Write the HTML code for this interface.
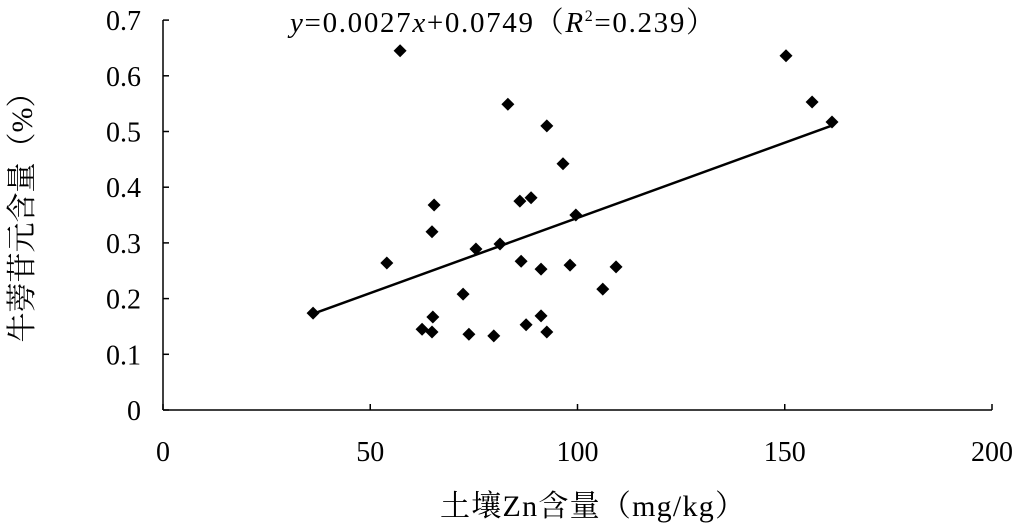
<!DOCTYPE html>
<html><head><meta charset="utf-8"><style>
body{margin:0;background:#fff;width:1026px;height:526px;overflow:hidden}
text{font-family:"Liberation Serif","Noto Serif CJK SC",serif;fill:#000}
</style></head><body>
<svg id="chart" width="1026" height="526" xmlns="http://www.w3.org/2000/svg">
<g id="axes"></g><g id="marks"></g>
<text x="290" y="32" font-size="29" textLength="425"><tspan font-style="italic">y</tspan>=0.0027<tspan font-style="italic">x</tspan>+0.0749（<tspan font-style="italic">R</tspan><tspan font-size="16" dy="-11">2</tspan><tspan dy="11">=0.239）</tspan></text>
<text x="440" y="516" font-size="30" textLength="305">土壤Zn含量（mg/kg）</text>
<text transform="translate(32,210) rotate(-90)" font-size="30" text-anchor="middle">牛蒡苷元含量（%）</text>
</svg>
<script>
const xTicks=[0,50,100,150,200];
const yTicks=[0,0.1,0.2,0.3,0.4,0.5,0.6,0.7];
const yTickLabels=["0","0.1","0.2","0.3","0.4","0.5","0.6","0.7"];
const xVals=[36.2,54.0,57.2,62.5,64.9,65.1,64.9,65.4,72.4,73.8,75.5,79.8,81.3,83.2,86.1,86.4,87.6,88.8,91.2,91.2,92.6,92.6,96.5,98.2,99.6,106.1,109.3,150.3,156.6,161.4];
const yVals=[0.174,0.264,0.645,0.145,0.140,0.167,0.320,0.368,0.208,0.136,0.289,0.133,0.298,0.549,0.375,0.267,0.153,0.381,0.253,0.169,0.140,0.510,0.442,0.260,0.350,0.217,0.257,0.636,0.553,0.517];
const slope=0.0027, intercept=0.0749;
const x=v=>163+v*(992-163)/200;
const y=v=>410-v*557;
const NS="http://www.w3.org/2000/svg";
const ax=document.getElementById('axes'), mk=document.getElementById('marks');
function mkEl(t,a,p){const e=document.createElementNS(NS,t);for(const k in a)e.setAttribute(k,a[k]);p.appendChild(e);return e;}
const xl=mkEl('line',{x1:163,y1:410,x2:992,y2:410,stroke:'#000','stroke-width':1.5},ax);


const yl=mkEl('line',{x1:163,y1:20,x2:163,y2:410,stroke:'#000','stroke-width':1.5},ax);


xTicks.forEach(v=>{
 mkEl('line',{x1:x(v),y1:410,x2:x(v),y2:404,stroke:'#000','stroke-width':1.5},ax);
 const t=mkEl('text',{x:x(v),y:461,'font-size':28,'text-anchor':'middle'},ax);t.textContent=v;
 
 
});
yTicks.forEach((v,i)=>{
 mkEl('line',{x1:163,y1:y(v),x2:169,y2:y(v),stroke:'#000','stroke-width':1.5},ax);
 const t=mkEl('text',{x:141,y:y(v)+10,'font-size':28,'text-anchor':'end'},ax);t.textContent=yTickLabels[i];
 
 
});
const xmin=Math.min(...xVals), xmax=Math.max(...xVals);
const tl=mkEl('line',{x1:x(xmin),y1:y(slope*xmin+intercept),x2:x(xmax),y2:y(slope*xmax+intercept),stroke:'#000','stroke-width':2.5},mk);


xVals.forEach((v,i)=>{
 const cx=x(v),cy=y(yVals[i]),r=6.5;
 const p=mkEl('polygon',{points:`${cx},${cy-r} ${cx+r},${cy} ${cx},${cy+r} ${cx-r},${cy}`,fill:'#000'},mk);
 
 
});
</script>
</body></html>
